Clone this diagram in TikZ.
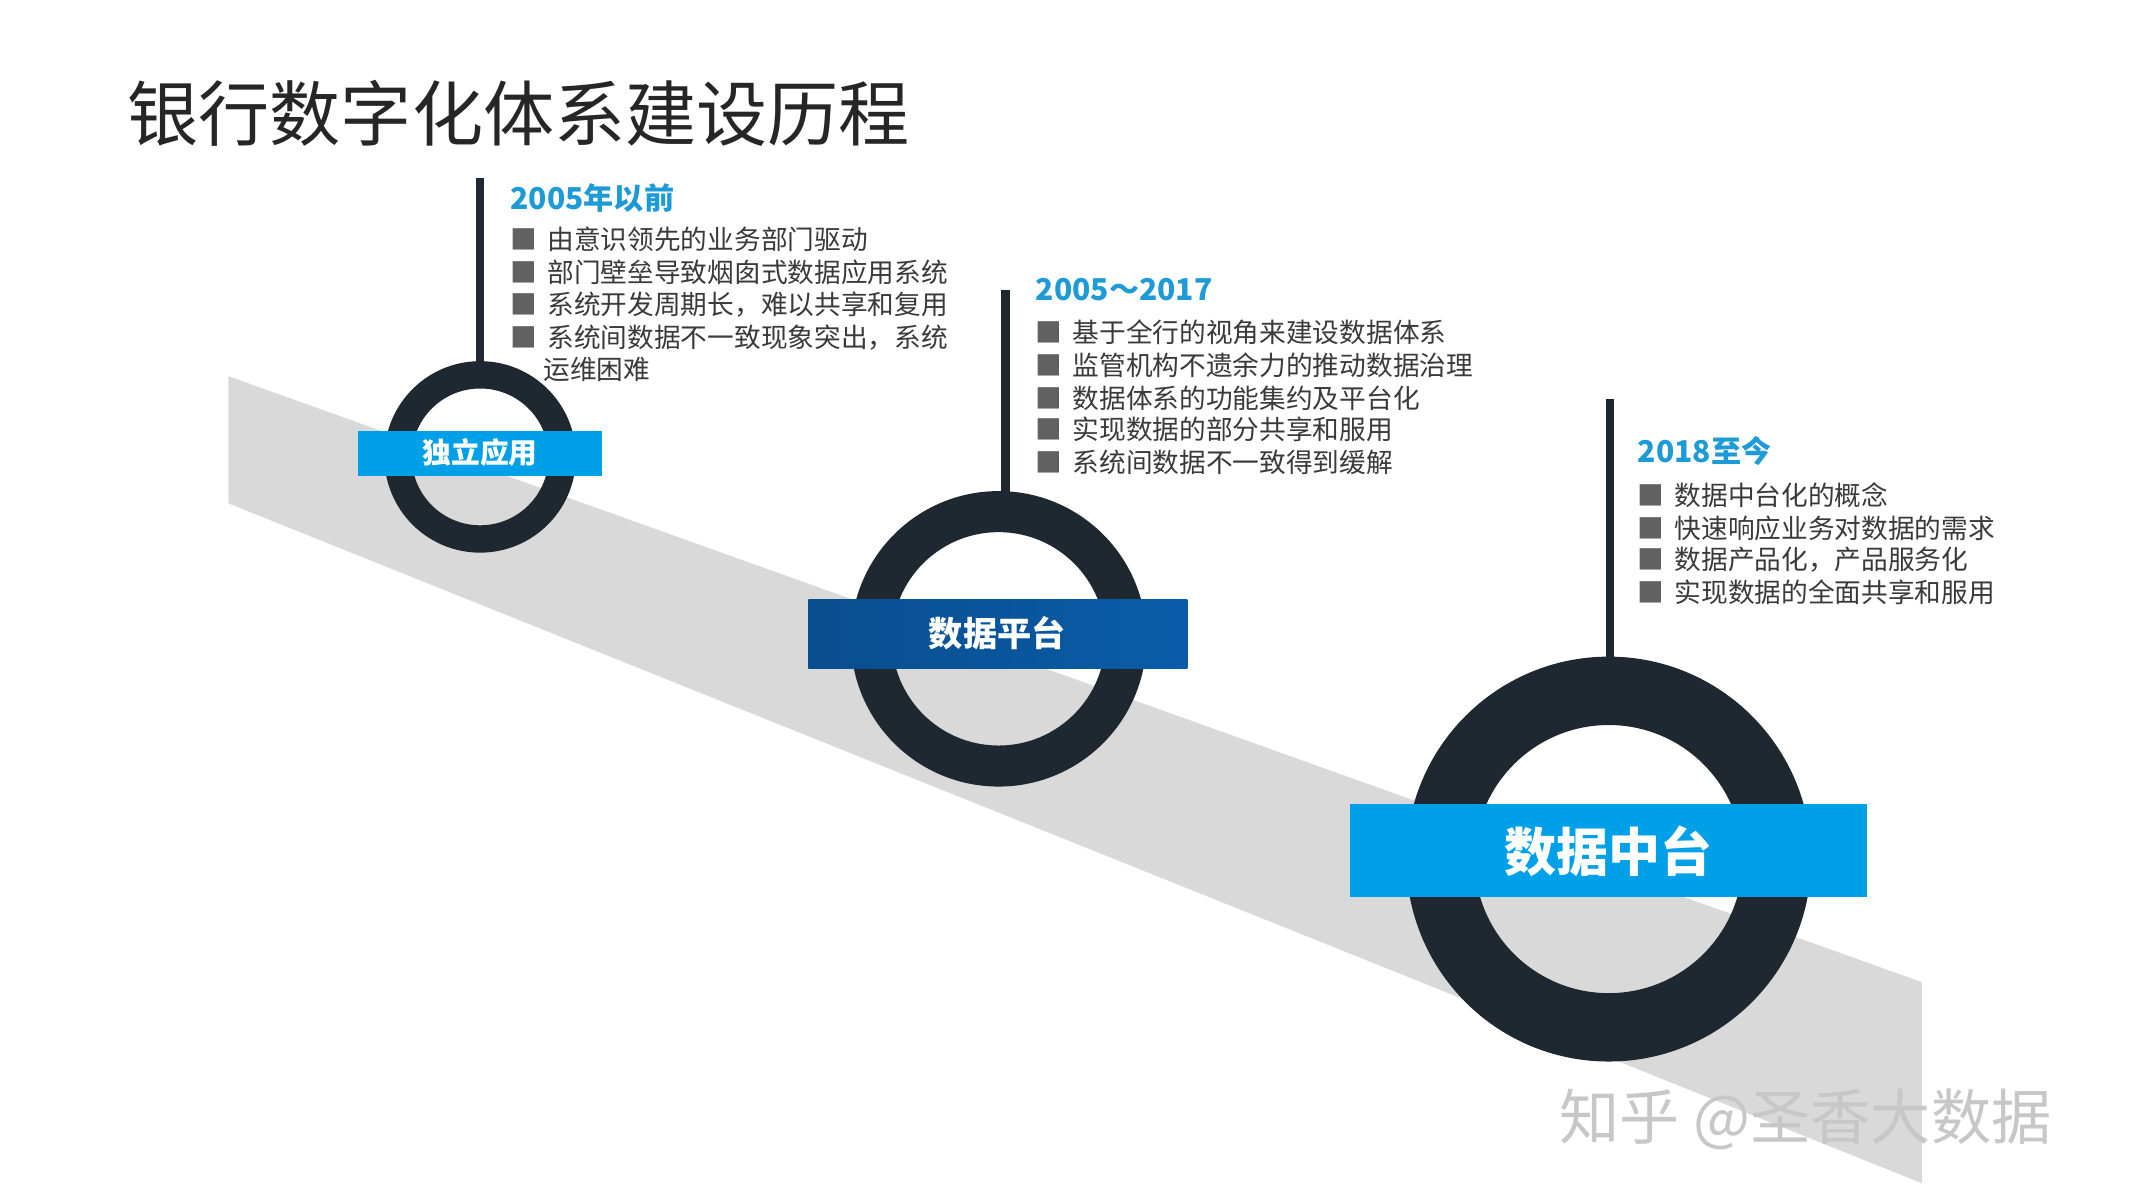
\documentclass[tikz,border=0pt]{standalone}
\usepackage{fontspec}
\setmainfont{Noto Sans CJK SC}
\begin{document}
\begin{tikzpicture}[x=1pt,y=-1pt,
  ring/.style={fill=ringc,even odd rule},
  lab/.style={text=white,font=\bfseries,inner sep=0pt},
  head/.style={anchor=west,text=headc,font=\bfseries\fontsize{22}{24}\selectfont,inner sep=0pt},
  item/.style={anchor=west,text=itemc,font=\fontsize{19.5}{20}\selectfont,inner sep=0pt},
  stem/.style={draw=ringc,line width=6pt}]
\definecolor{ringc}{HTML}{1F2830}
\definecolor{bandc}{HTML}{D9D9D9}
\definecolor{cyanc}{HTML}{00A0E9}
\definecolor{bluec}{HTML}{0A5CA8}
\definecolor{headc}{HTML}{1E9BD7}
\definecolor{itemc}{HTML}{3A3A3A}
\useasboundingbox (0,0) rectangle (1560,877);
\fill[white] (0,0) rectangle (1560,877);
\node[anchor=west,inner sep=0pt,text=black!85,font=\fontsize{52}{56}\selectfont] (title) at (93,83) {银行数字化体系建设历程};
\fill[bandc] (167,275) -- (1405,718) -- (1405,865) -- (167,368) -- cycle;
% ring 1
\fill[ring] (351,334) circle[radius=70pt] circle[radius=50pt];
\coordinate (r1) at (351,266); \coordinate (t1) at (351,130);
\draw[stem] (t1) -- (r1);
\fill[cyanc] (262,315) rectangle (440,348);
\node[lab,font=\bfseries\fontsize{21}{22}\selectfont] (l1) at (351,331) {独立应用};
% ring 2
\fill[ring] (730,467) circle[radius=108pt] circle[radius=78pt];
\coordinate (r2) at (735,360); \coordinate (t2) at (735,212);
\draw[stem] (t2) -- (r2);
\shade[left color=bluec!85!black,right color=bluec] (591,438) rectangle (868,489);
\node[lab,font=\bfseries\fontsize{25}{26}\selectfont] (l2) at (729,463) {数据平台};
% ring 3
\fill[ring] (1176,628) circle[radius=148pt] circle[radius=98pt];
\coordinate (r3) at (1177,482); \coordinate (t3) at (1177,292);
\draw[stem] (t3) -- (r3);
\fill[cyanc] (987,588) rectangle (1365,656);
\node[lab,font=\bfseries\fontsize{38}{40}\selectfont] (l3) at (1176,622) {数据中台};
% text block 1
\node[head] (h1) at (373,145) {2005年以前};
\node[item] (a1) at (373,175) {\textcolor{itemc!80}{■}\, 由意识领先的业务部门驱动};
\node[item] (a2) at (373,199) {\textcolor{itemc!80}{■}\, 部门壁垒导致烟囱式数据应用系统};
\node[item] (a3) at (373,223) {\textcolor{itemc!80}{■}\, 系统开发周期长，难以共享和复用};
\node[item] (a4) at (373,247) {\textcolor{itemc!80}{■}\, 系统间数据不一致现象突出，系统};
\node[item] (a5) at (397,270) {运维困难};
% text block 2
\node[head] (h2) at (757,212) {2005～2017};
\node[item] (b1) at (757,243) {\textcolor{itemc!80}{■}\, 基于全行的视角来建设数据体系};
\node[item] (b2) at (757,267) {\textcolor{itemc!80}{■}\, 监管机构不遗余力的推动数据治理};
\node[item] (b3) at (757,291) {\textcolor{itemc!80}{■}\, 数据体系的功能集约及平台化};
\node[item] (b4) at (757,314) {\textcolor{itemc!80}{■}\, 实现数据的部分共享和服用};
\node[item] (b5) at (757,338) {\textcolor{itemc!80}{■}\, 系统间数据不一致得到缓解};
% text block 3
\node[head] (h3) at (1197,330) {2018至今};
\node[item] (c1) at (1197,362) {\textcolor{itemc!80}{■}\, 数据中台化的概念};
\node[item] (c2) at (1197,386) {\textcolor{itemc!80}{■}\, 快速响应业务对数据的需求};
\node[item] (c3) at (1197,409) {\textcolor{itemc!80}{■}\, 数据产品化，产品服务化};
\node[item] (c4) at (1197,433) {\textcolor{itemc!80}{■}\, 实现数据的全面共享和服用};
% watermark
\node[anchor=west,inner sep=0pt,text=black!22,font=\fontsize{44}{46}\selectfont] (wm) at (1140,818) {知乎 @圣香大数据};
\end{tikzpicture}
\end{document}
